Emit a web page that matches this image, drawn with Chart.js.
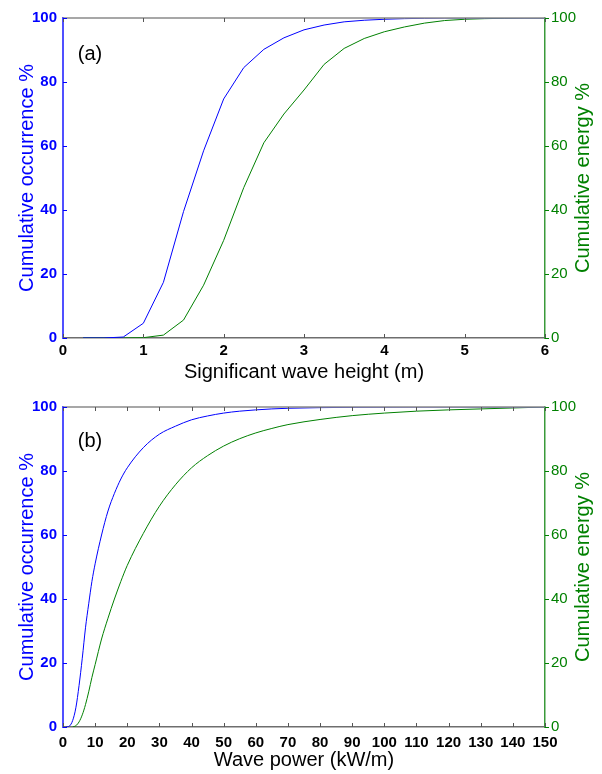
<!DOCTYPE html>
<html>
<head>
<meta charset="utf-8">
<script src="https://cdn.jsdelivr.net/npm/chart.js@4.4.1/dist/chart.umd.min.js"></script>
<style>
  body { margin: 0; background: #fff; }
  #wrap { position: relative; width: 602px; height: 774px; }
  canvas { position: absolute; left: 0; }
  #chartA { top: 0; }
  #chartB { top: 389px; }
</style>
</head>
<body>
<div id="wrap">
  <canvas id="chartA" width="602" height="389"></canvas>
  <canvas id="chartB" width="602" height="385"></canvas>
</div>
<script>
// (a) significant wave height, m
const heightX = [0.25, 0.5, 0.75, 1, 1.25, 1.5, 1.75, 2, 2.25, 2.5, 2.75, 3,
  3.25, 3.5, 3.75, 4, 4.25, 4.5, 4.75, 5, 5.25, 5.5, 5.75, 6];
const occurrenceA = [0, 0, 0.3, 4.6, 17.4, 39.5, 58.5, 74.7, 84.5, 90.2, 93.8, 96.3,
  97.8, 98.8, 99.3, 99.6, 99.8, 99.9, 100, 100, 100, 100, 100, 100];
const energyA = [0, 0, 0, 0.1, 0.9, 5.6, 16.5, 30.5, 47, 61, 70, 77.5,
  85.5, 90.5, 93.6, 95.7, 97.2, 98.4, 99.2, 99.6, 99.8, 99.9, 100, 100];

// (b) wave power, kW/m
const powerX = [1, 2, 3, 4, 5, 6, 7, 8, 9, 10, 12, 14, 16, 18, 20, 25, 30, 35, 40,
  45, 50, 55, 60, 65, 70, 80, 90, 100, 110, 120, 130, 140, 150];
const occurrenceB = [0, 0.3, 2, 6, 13, 21.5, 31, 38.5, 45.5, 51, 60, 67.5, 73, 77.5, 81,
  87.3, 91.5, 94, 96, 97.2, 98.1, 98.7, 99.1, 99.4, 99.6, 99.8, 99.9, 99.95, 100, 100, 100, 100, 100];
const energyB = [null, null, 0, 0.4, 1.6, 3.8, 7, 11, 15.5, 19.5, 27.5, 34, 40, 45.5, 50.5,
  60.5, 69, 75.7, 81, 84.8, 87.8, 90.1, 91.9, 93.3, 94.5, 96.1, 97.3, 98.1, 98.7, 99.1, 99.4, 99.7, 100];

const yTicks = [0, 20, 40, 60, 80, 100];

const BLUE = "#0000ff";
const GREEN = "#008000";
const FONT = "'Liberation Sans', Arial, Helvetica, sans-serif";

// frame, inward tick marks, panel letter and right-hand title
const frameAndTicks = {
  id: "frameAndTicks",
  afterDraw(chart, args, opts) {
    const ctx = chart.ctx;
    const { left, right, top, bottom } = chart.chartArea;
    const x = chart.scales.x;
    const yl = chart.scales.yLeft;
    const yr = chart.scales.yRight;
    ctx.save();

    // top edge
    ctx.strokeStyle = "#8a8a8a";
    ctx.lineWidth = 1.5;
    ctx.beginPath();
    ctx.moveTo(left, top);
    ctx.lineTo(right, top);
    ctx.stroke();

    // x ticks, pointing in from top and bottom
    ctx.strokeStyle = "#555";
    ctx.lineWidth = 1;
    x.ticks.forEach((t) => {
      const px = Math.round(x.getPixelForValue(t.value)) + 0.5;
      ctx.beginPath();
      ctx.moveTo(px, bottom);
      ctx.lineTo(px, bottom - 4);
      ctx.moveTo(px, top);
      ctx.lineTo(px, top + 4);
      ctx.stroke();
    });

    // left ticks (blue, inward) and right ticks (green, outward)
    yl.ticks.forEach((t) => {
      const py = Math.round(yl.getPixelForValue(t.value)) + 0.5;
      ctx.strokeStyle = BLUE;
      ctx.beginPath();
      ctx.moveTo(left, py);
      ctx.lineTo(left + 4, py);
      ctx.stroke();
    });
    yr.ticks.forEach((t) => {
      const py = Math.round(yr.getPixelForValue(t.value)) + 0.5;
      ctx.strokeStyle = GREEN;
      ctx.beginPath();
      ctx.moveTo(right, py);
      ctx.lineTo(right + 4, py);
      ctx.stroke();
    });

    // panel letter
    ctx.fillStyle = "#000";
    ctx.font = "20px " + FONT;
    ctx.textAlign = "center";
    ctx.textBaseline = "middle";
    ctx.fillText(opts.panel, left + opts.panelDx, top + opts.panelDy);

    // right axis title, reading bottom to top like the left one
    ctx.fillStyle = GREEN;
    ctx.translate(583, (top + bottom) / 2);
    ctx.rotate(-Math.PI / 2);
    ctx.fillText("Cumulative energy %", 0, 0);
    ctx.restore();
  },
};

function makeChart(id, xs, occ, energy, xMax, xStep, xTitle, panel, smooth, axisH, tickPad, titlePad) {
  return new Chart(document.getElementById(id), {
    type: "line",
    data: {
      labels: xs,
      datasets: [
        {
          label: "Cumulative occurrence",
          data: occ,
          yAxisID: "yLeft",
          borderColor: BLUE,
          borderWidth: 1,
          pointRadius: 0,
          tension: smooth ? 0.4 : 0,
          cubicInterpolationMode: smooth ? "monotone" : "default",
        },
        {
          label: "Cumulative energy",
          data: energy,
          yAxisID: "yRight",
          borderColor: GREEN,
          borderWidth: 1,
          pointRadius: 0,
          tension: smooth ? 0.4 : 0,
          cubicInterpolationMode: smooth ? "monotone" : "default",
        },
      ],
    },
    options: {
      responsive: false,
      animation: false,
      layout: { padding: { top: 18, left: 0, right: 0, bottom: 0 } },
      plugins: {
        legend: { display: false },
        tooltip: { enabled: false },
        frameAndTicks: { panel: panel.text, panelDx: panel.dx, panelDy: panel.dy },
      },
      scales: {
        x: {
          type: "linear",
          min: 0,
          max: xMax,
          afterFit: (s) => { s.height = axisH; },
          grid: { display: false, drawTicks: false, tickLength: 0 },
          border: { display: true, color: "#6e6e6e", width: 1.5 },
          ticks: {
            stepSize: xStep,
            autoSkip: false,
            maxRotation: 0,
            padding: tickPad,
            color: "#000",
            font: { family: FONT, size: 15, weight: "bold" },
          },
          title: {
            display: true,
            text: xTitle,
            color: "#000",
            font: { family: FONT, size: 20 },
            padding: { top: 0, bottom: titlePad },
          },
        },
        yLeft: {
          position: "left",
          min: 0,
          max: 100,
          afterFit: (s) => { s.width = 63; },
          afterBuildTicks: (s) => { s.ticks = yTicks.map((v) => ({ value: v })); },
          grid: { display: false, drawTicks: false, tickLength: 0 },
          border: { display: true, color: "#5050ff", width: 2 },
          ticks: {
            padding: 6,
            color: BLUE,
            font: { family: FONT, size: 15, weight: "bold" },
          },
          title: {
            display: true,
            text: "Cumulative occurrence %",
            color: BLUE,
            font: { family: FONT, size: 20 },
            padding: { top: 15, bottom: 0 },
          },
        },
        yRight: {
          position: "right",
          min: 0,
          max: 100,
          afterFit: (s) => { s.width = 57; },
          afterBuildTicks: (s) => { s.ticks = yTicks.map((v) => ({ value: v })); },
          grid: { display: false, drawTicks: false, tickLength: 0 },
          border: { display: true, color: "#3a9a3a", width: 1.5 },
          ticks: {
            padding: 6,
            color: GREEN,
            font: { family: FONT, size: 15 },
          },
        },
      },
    },
    plugins: [frameAndTicks],
  });
}

makeChart("chartA", heightX, occurrenceA, energyA, 6, 1,
  "Significant wave height (m)", { text: "(a)", dx: 27, dy: 36 }, false, 51, 4, 5);
makeChart("chartB", powerX, occurrenceB, energyB, 150, 10,
  "Wave power (kW/m)", { text: "(b)", dx: 27, dy: 34 }, true, 47, 7, 2);
</script>
</body>
</html>
